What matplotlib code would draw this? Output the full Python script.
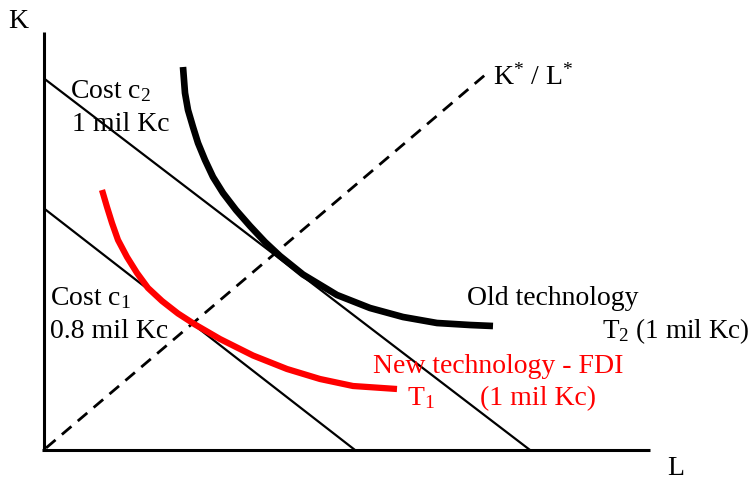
import matplotlib
matplotlib.use("Agg")
import matplotlib.pyplot as plt

plt.rcParams["font.family"] = ["Liberation Serif", "DejaVu Serif"]
plt.rcParams["mathtext.fontset"] = "custom"
plt.rcParams["mathtext.rm"] = "Liberation Serif"
plt.rcParams["mathtext.it"] = "Liberation Serif"

# axis ends (L, K units measured from the origin)
k_axis_top = 418
l_axis_end = 606

# budget lines: K intercept and L intercept
cost_c2 = (370, 486)
cost_c1 = (240, 311)

# K*/L* ray end point
ray_end = (441, 375)

# old technology isoquant T2
old_L = [139, 141, 144, 149, 154, 161, 169, 179, 192, 206, 221, 236,
         259, 293, 326, 359, 393, 426, 449]
old_K = [383, 357, 340, 323, 307, 290, 273, 257, 240, 224, 208, 194,
         175.5, 155, 142, 133, 127, 125, 124]

# new technology isoquant T1 (FDI)
new_L = [58, 63, 68, 74, 83, 93, 104, 118, 134, 151, 176, 209, 243,
         276, 309, 353]
new_K = [260, 243, 227, 210, 193, 177, 162, 149, 136.5, 125.5, 111, 94.5,
         81, 71, 64, 61]

fig = plt.figure(figsize=(7.5, 4.8), dpi=100)
ax = fig.add_axes([0, 0, 1, 1])
ax.set_xlim(-44, 706)
ax.set_ylim(-30, 450)
ax.axis("off")

# axes
ax.plot([0, 0], [0, k_axis_top], color="black", lw=2.2, solid_capstyle="butt")
ax.plot([-2, l_axis_end], [0, 0], color="black", lw=2.2, solid_capstyle="butt")

# cost lines
ax.plot([2, cost_c2[1]], [cost_c2[0], 0], color="black", lw=1.6)
ax.plot([2, cost_c1[1]], [cost_c1[0], 0], color="black", lw=1.6)

# K*/L* ray
ax.plot([2, ray_end[0]], [2, ray_end[1]], color="black", lw=2,
        linestyle=(0, (4.5, 3)))

# isoquants
ax.plot(old_L, old_K, color="black", lw=4.8, solid_capstyle="butt",
        solid_joinstyle="round")
ax.plot(new_L, new_K, color="#ff0000", lw=4.5, solid_capstyle="butt",
        solid_joinstyle="round")

fs = 20
ax.text(-36, 422, "K", fontsize=fs, va="baseline")
ax.text(623, -25, "L", fontsize=fs, va="baseline")
ax.text(26, 352, r"Cost c$_\mathrm{2}$", fontsize=fs, va="baseline")
ax.text(28, 319, "1 mil Kc", fontsize=fs, va="baseline")
ax.text(449, 365, r"K$^\mathrm{*}$ / L$^\mathrm{*}$", fontsize=fs,
        va="baseline")
ax.text(6, 145, r"Cost c$_\mathrm{1}$", fontsize=fs, va="baseline")
ax.text(6, 112, "0.8 mil Kc", fontsize=fs, va="baseline")
ax.text(423, 145, "Old technology", fontsize=fs, va="baseline")
ax.text(558, 112, r"T$_\mathrm{2}$ (1 mil Kc)", fontsize=19.5,
        va="baseline")
ax.text(329, 77, "New technology - FDI", fontsize=fs, va="baseline",
        color="#ff0000")
ax.text(363, 45, r"T$_\mathrm{1}$", fontsize=fs, va="baseline",
        color="#ff0000")
ax.text(436, 45, "(1 mil Kc)", fontsize=fs, va="baseline", color="#ff0000")

fig.savefig("out.png", dpi=100)
